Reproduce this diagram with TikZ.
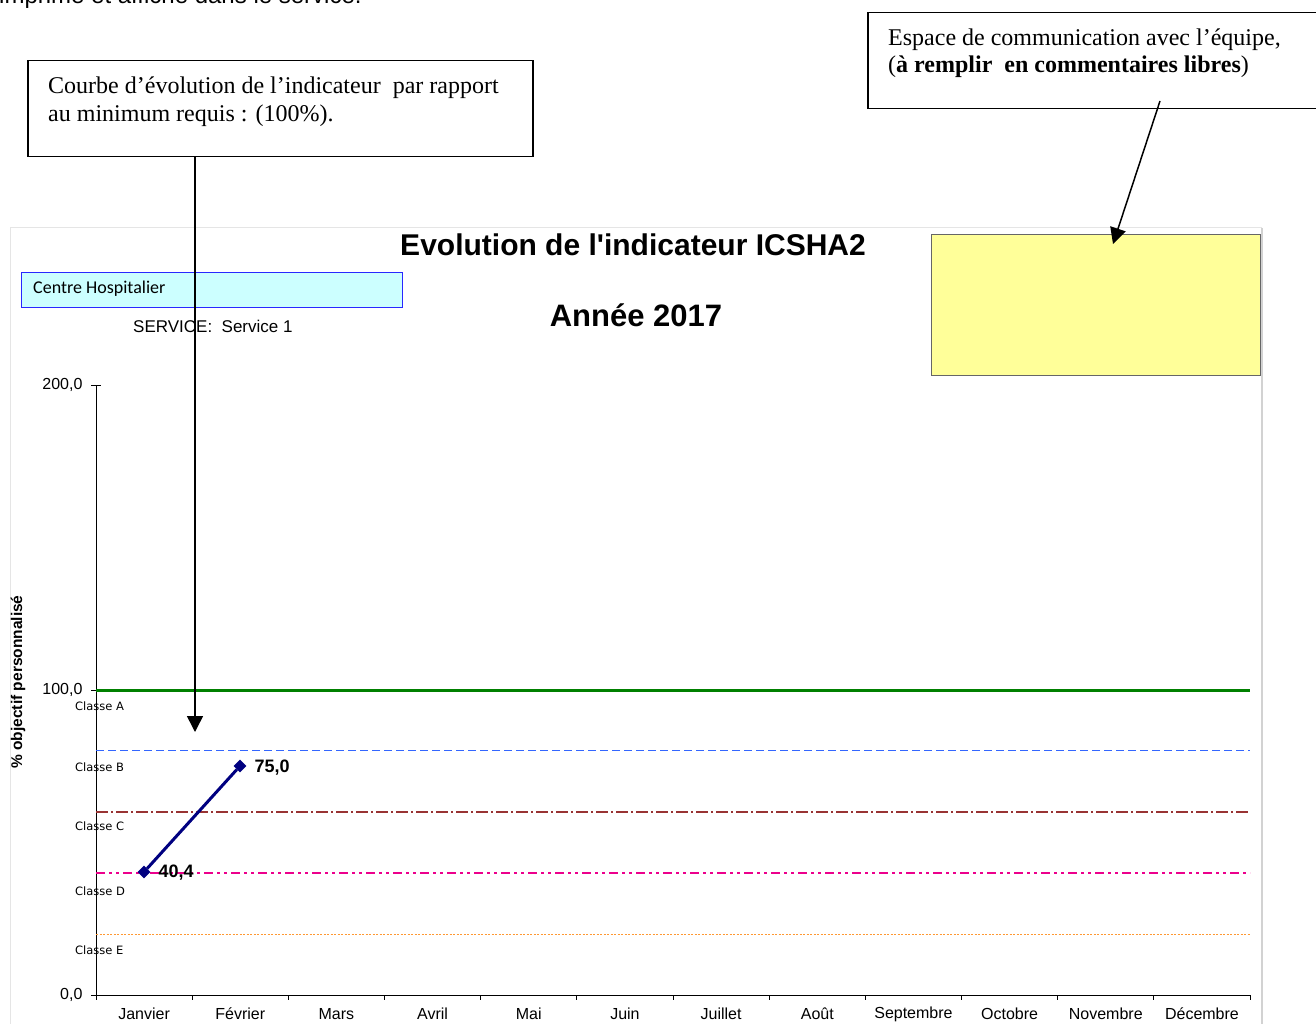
\documentclass[tikz,border=0pt]{standalone}
\usepackage{fontspec}
\setmainfont{Liberation Serif}
\setsansfont{Liberation Sans}
\newfontfamily\titlefont{Liberation Sans}
\newfontfamily\calibrifont{Carlito}
\newfontfamily\classfont{DejaVu Sans}
\usepackage{tikz}
\usetikzlibrary{arrows.meta,shapes.geometric,calc,positioning}
\usepackage{xcolor}

\definecolor{noteyellow}{RGB}{255,255,153}
\definecolor{hospcyan}{RGB}{204,255,255}
\definecolor{hospblue}{RGB}{40,40,255}
\definecolor{curvenavy}{RGB}{0,0,128}
\definecolor{limitgreen}{RGB}{0,128,0}
\definecolor{limitblue}{RGB}{51,102,255}
\definecolor{limitbrown}{RGB}{153,51,51}
\definecolor{limitorange}{RGB}{255,153,51}

\tikzset{
  callout/.style={draw, line width=1.5pt, inner sep=0pt, anchor=north west},
  pointer/.style={line width=1.5pt, -{Triangle[length=16pt,width=16pt]}},
  monthlab/.style={font=\sffamily\fontsize{16}{18}\selectfont},
  classlab/.style={anchor=west, inner sep=0pt, font=\classfont\fontsize{11.5}{13}\selectfont},
  ylab/.style={anchor=east, font=\sffamily\fontsize{16}{18}\selectfont},
  point/.style={diamond, fill=curvenavy, inner sep=0pt, minimum size=13pt},
  pointlab/.style={anchor=west, font=\sffamily\bfseries\fontsize{18}{20}\selectfont}
}

\begin{document}
\begin{tikzpicture}[x=1pt,y=-1pt]
\useasboundingbox (0,0) rectangle (1316,1024);

% line of the page above, cut by the picture
\node[anchor=base west, inner sep=0pt, font=\sffamily\fontsize{24}{28}\selectfont]
     (pagetext) at (-1,4) {imprimé et affiché dans le service.};

% the two comment boxes
\node[callout, minimum width=505pt, minimum height=96pt] (curvebox) at (27,60) {};
\node[anchor=north west, inner sep=0pt, align=left, font=\fontsize{24}{28}\selectfont]
     (curvetext) at (48,77) {Courbe d’évolution de l’indicateur\ \ par rapport\\au minimum requis : (100\%).};

\node[callout, minimum width=449pt, minimum height=96pt] (teambox) at (867,12) {};
\node[anchor=north west, inner sep=0pt, align=left, font=\fontsize{24}{27}\selectfont]
     (teamtext) at (888,29) {Espace de communication avec l’équipe,\\(\textbf{à remplir\ \ en commentaires libres})};

% chart frame
\draw[gray!20, line width=1pt] (10,1024) -- (10,228) -- (1262,228);
\draw[gray!35, line width=2.5pt] (1262,228) -- (1262,1024);

% titles
\node[font=\titlefont\bfseries\fontsize{30}{34}\selectfont] (title) at (633,245) {Evolution de l'indicateur ICSHA2};
\node[font=\titlefont\bfseries\fontsize{31}{34}\selectfont] (year) at (636,315) {Année 2017};

\node[draw=hospblue, fill=hospcyan, line width=1pt, anchor=north west, minimum width=381pt,
      minimum height=35pt, inner sep=0pt] (hospbox) at (21,272) {};
\node[anchor=west, inner sep=0pt, font=\calibrifont\fontsize{18}{20}\selectfont] (hosptext) at (33,289) {Centre Hospitalier};
\node[anchor=west, inner sep=0pt, font=\sffamily\fontsize{17}{19}\selectfont] (service) at (133,326) {SERVICE:\ \ Service 1};

\node[draw=black!60, fill=noteyellow, line width=1pt, anchor=north west, minimum width=329pt,
      minimum height=141pt, inner sep=0pt] (notebox) at (931,234) {};

% axes
\draw[line width=1pt] (96,385) -- (96,995) -- (1250,995);
\draw[line width=1pt] (91,385) -- (101,385);
\foreach \yy/\t in {385/200,690/100,995/0} {
  \draw[line width=1pt] (91,\yy) -- (96,\yy);
  \node[ylab] (y\t) at (86,\yy) {\t,0};
}
\foreach \i in {0,...,12}
  \draw[line width=1pt] (96+96.17*\i,995) -- (96+96.17*\i,1000);
\foreach \m [count=\i] in {Janvier,Février,Mars,Avril,Mai,Juin,Juillet,Août,Septembre,Octobre,Novembre,Décembre}
  \node[monthlab] (month\i) at (96+96.17*\i-48.08,1014) {\m};

\node[rotate=90, font=\sffamily\bfseries\fontsize{15.5}{17}\selectfont] (yaxis) at (18,682) {\% objectif personnalisé};

% class limits
\draw[limitgreen, line width=3pt] (96,690) -- (1250,690);
\draw[limitblue, line width=1pt, dash pattern=on 8pt off 4pt] (96,750) -- (1250,750);
\draw[limitbrown, line width=1.1pt, dash pattern=on 12pt off 3pt on 2pt off 3pt] (96,812) -- (1250,812);
\draw[magenta, line width=1.1pt, dash pattern=on 9pt off 4pt on 3pt off 4pt on 3pt off 4pt] (96,873) -- (1250,873);
\draw[limitorange, line width=1pt, dash pattern=on 2pt off 1.5pt] (96,934) -- (1250,934);

\foreach \c/\yy in {A/706,B/767,C/826,D/891,E/950}
  \node[classlab] (class\c) at (75,\yy) {Classe \c};

% data
\node[point] (jan) at (144,872) {};
\node[point] (feb) at (240,766) {};
\draw[curvenavy, line width=3pt] (jan) -- (feb);
\node[pointlab] (janval) at (155,873) {40,4};
\node[pointlab] (febval) at (251,768) {75,0};

% arrows
\coordinate (tipA) at (195,732);
\coordinate (tipB) at (1113,244);
\draw[pointer] (curvebox.south west -| tipA) -- (tipA);
\draw[pointer] (1160,101) -- (tipB);

\end{tikzpicture}
\end{document}
